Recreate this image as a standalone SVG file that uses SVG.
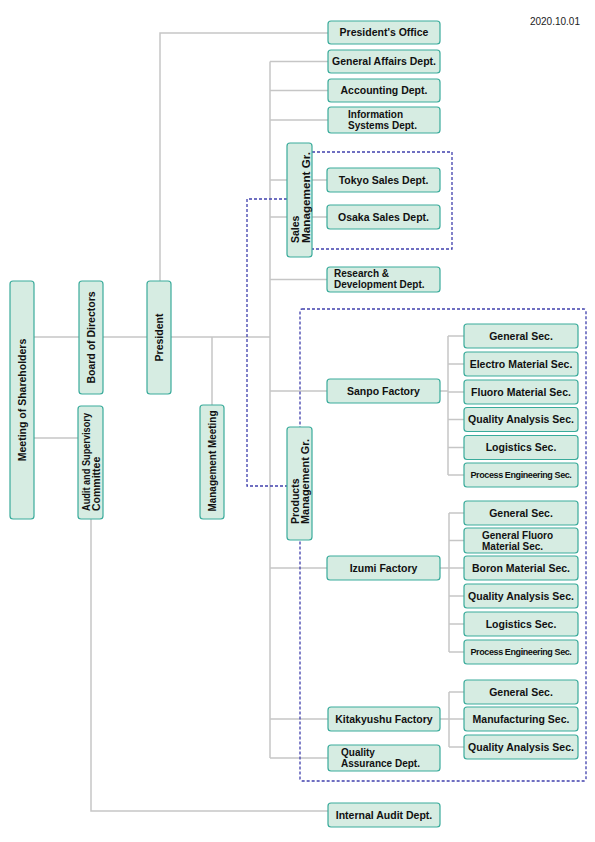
<svg xmlns="http://www.w3.org/2000/svg" width="595" height="842" viewBox="0 0 595 842">
<style>
.box{fill:#d6ece2;stroke:#3aab9b;stroke-width:1.2}
.t{font-family:"Liberation Sans",Arial,sans-serif;font-weight:bold;font-size:10.5px;fill:#111}
.t2{font-size:10px}
.pe{font-size:9px;letter-spacing:-0.4px}
.c{text-anchor:middle}
.ln{stroke:#c6c6c6;stroke-width:1.5;fill:none}
.dash{stroke:#4040ad;stroke-width:1.3;stroke-dasharray:3 2;fill:none}
.date{font-family:"Liberation Sans",Arial,sans-serif;font-size:10px;fill:#222;text-anchor:end}
</style>
<rect width="595" height="842" fill="#fff"/>
<text class="date" x="580" y="25">2020.10.01</text>
<g id="connectors">
<path class="ln" d="M34,337H270M34,438H78M212,337V405M160,281V33H328M270,61.5V758"/>
<path class="ln" d="M270,61.5H328M270,90.5H328M270,120H328M270,180H327M270,217H327M270,279.5H327M270,391H327M270,568H327M270,719H328M270,758H328"/>
<path class="ln" d="M91,519V811H328"/>
<path class="ln" d="M440,391H448M448,336V475M448,336H464M448,364H464M448,392H464M448,419.5H464M448,447.5H464M448,475H464"/>
<path class="ln" d="M440,568H449M449,513V652M449,513H464M449,540.5H464M449,568H464M449,596H464M449,624H464M449,652H464"/>
<path class="ln" d="M440,719H449M449,692V747M449,692H464M449,719H464M449,747H464"/>
<path class="dash" d="M312,152H452V249H312"/>
<rect class="dash" x="300" y="309" width="286" height="472" rx="2"/>
<path class="dash" d="M287,199H247V486H287"/>
</g>
<g id="n-meeting"><rect class="box" x="10" y="281" width="24" height="238" rx="3"/><text class="t c" transform="translate(25.5,400) rotate(-90)">Meeting of Shareholders</text></g>
<g id="n-board"><rect class="box" x="79" y="281" width="24" height="113" rx="3"/><text class="t c" transform="translate(94.5,337.5) rotate(-90)">Board of Directors</text></g>
<g id="n-president"><rect class="box" x="147" y="281" width="24" height="113" rx="3"/><text class="t c" transform="translate(162.5,337.5) rotate(-90)">President</text></g>
<g id="n-audit"><rect class="box" x="78" y="406" width="25" height="113" rx="3"/><text class="t" transform="rotate(-90)"><tspan x="-511" y="89.5" textLength="98" lengthAdjust="spacingAndGlyphs">Audit and Supervisory</tspan><tspan x="-511" y="100">Committee</tspan></text></g>
<g id="n-mgmtmeeting"><rect class="box" x="200" y="405" width="24" height="114" rx="3"/><text class="t c" transform="translate(215.5,461) rotate(-90)" textLength="101" lengthAdjust="spacingAndGlyphs">Management Meeting</text></g>
<g id="n-presoffice"><rect class="box" x="328" y="21" width="112" height="23" rx="3"/><text class="t c" x="384" y="36">President's Office</text></g>
<g id="n-genaffairs"><rect class="box" x="328" y="50" width="112" height="23" rx="3"/><text class="t c" x="384" y="65">General Affairs Dept.</text></g>
<g id="n-accounting"><rect class="box" x="328" y="79" width="112" height="23" rx="3"/><text class="t c" x="384" y="94">Accounting Dept.</text></g>
<g id="n-infosys"><rect class="box" x="328" y="107" width="112" height="26" rx="3"/><text class="t t2"><tspan x="348" y="117.5">Information</tspan><tspan x="348" y="128.5">Systems Dept.</tspan></text></g>
<g id="n-salesgr"><rect class="box" x="287" y="143" width="25" height="114" rx="3"/><text class="t" transform="rotate(-90)"><tspan x="-243" y="299">Sales</tspan><tspan x="-243" y="309.5" textLength="91" lengthAdjust="spacingAndGlyphs">Management Gr.</tspan></text></g>
<g id="n-tokyo"><rect class="box" x="327" y="168" width="113" height="24" rx="3"/><text class="t c" x="383.5" y="183.7">Tokyo Sales Dept.</text></g>
<g id="n-osaka"><rect class="box" x="327" y="205" width="113" height="24" rx="3"/><text class="t c" x="383.5" y="220.7">Osaka Sales Dept.</text></g>
<g id="n-rnd"><rect class="box" x="327" y="267" width="113" height="25" rx="3"/><text class="t t2"><tspan x="334" y="277">Research &amp;</tspan><tspan x="334" y="288">Development Dept.</tspan></text></g>
<g id="n-productsgr"><rect class="box" x="287" y="427" width="25" height="113" rx="3"/><text class="t" transform="rotate(-90)"><tspan x="-524" y="298.5">Products</tspan><tspan x="-524" y="309" textLength="85" lengthAdjust="spacingAndGlyphs">Management Gr.</tspan></text></g>
<g id="n-sanpo"><rect class="box" x="327" y="379" width="113" height="24" rx="3"/><text class="t c" x="383.5" y="394.7">Sanpo Factory</text></g>
<g id="n-s-general"><rect class="box" x="464" y="324" width="114" height="24" rx="3"/><text class="t c" x="521" y="339.7">General Sec.</text></g>
<g id="n-s-electro"><rect class="box" x="464" y="352" width="114" height="24" rx="3"/><text class="t c" x="521" y="367.7">Electro Material Sec.</text></g>
<g id="n-s-fluoro"><rect class="box" x="464" y="380" width="114" height="24" rx="3"/><text class="t c" x="521" y="395.7">Fluoro Material Sec.</text></g>
<g id="n-s-qa"><rect class="box" x="464" y="407.5" width="114" height="24" rx="3"/><text class="t c" x="521" y="423.2">Quality Analysis Sec.</text></g>
<g id="n-s-logistics"><rect class="box" x="464" y="435.5" width="114" height="24" rx="3"/><text class="t c" x="521" y="451.2">Logistics Sec.</text></g>
<g id="n-s-process"><rect class="box" x="464" y="463" width="114" height="24" rx="3"/><text class="t pe c" x="521" y="478.3">Process Engineering Sec.</text></g>
<g id="n-izumi"><rect class="box" x="327" y="556" width="113" height="24" rx="3"/><text class="t c" x="383.5" y="571.7">Izumi Factory</text></g>
<g id="n-i-general"><rect class="box" x="464" y="501" width="114" height="24" rx="3"/><text class="t c" x="521" y="516.7">General Sec.</text></g>
<g id="n-i-genfluoro"><rect class="box" x="464" y="528" width="114" height="25" rx="3"/><text class="t t2"><tspan x="482" y="538.5">General Fluoro</tspan><tspan x="482" y="549.5">Material Sec.</tspan></text></g>
<g id="n-i-boron"><rect class="box" x="464" y="556" width="114" height="24" rx="3"/><text class="t c" x="521" y="571.7">Boron Material Sec.</text></g>
<g id="n-i-qa"><rect class="box" x="464" y="584" width="114" height="24" rx="3"/><text class="t c" x="521" y="599.7">Quality Analysis Sec.</text></g>
<g id="n-i-logistics"><rect class="box" x="464" y="612" width="114" height="24" rx="3"/><text class="t c" x="521" y="627.7">Logistics Sec.</text></g>
<g id="n-i-process"><rect class="box" x="464" y="640" width="114" height="24" rx="3"/><text class="t pe c" x="521" y="655.3">Process Engineering Sec.</text></g>
<g id="n-kitakyushu"><rect class="box" x="328" y="707" width="112" height="24" rx="3"/><text class="t c" x="384" y="722.7">Kitakyushu Factory</text></g>
<g id="n-k-general"><rect class="box" x="464" y="680" width="114" height="24" rx="3"/><text class="t c" x="521" y="695.7">General Sec.</text></g>
<g id="n-k-manufacturing"><rect class="box" x="464" y="707" width="114" height="24" rx="3"/><text class="t c" x="521" y="722.7">Manufacturing Sec.</text></g>
<g id="n-k-qa"><rect class="box" x="464" y="735" width="114" height="24" rx="3"/><text class="t c" x="521" y="750.7">Quality Analysis Sec.</text></g>
<g id="n-qadept"><rect class="box" x="328" y="745" width="112" height="26" rx="3"/><text class="t t2"><tspan x="341" y="755.5">Quality</tspan><tspan x="341" y="766.5">Assurance Dept.</tspan></text></g>
<g id="n-internalaudit"><rect class="box" x="328" y="803" width="112" height="24" rx="3"/><text class="t c" x="384" y="818.7">Internal Audit Dept.</text></g>
</svg>
